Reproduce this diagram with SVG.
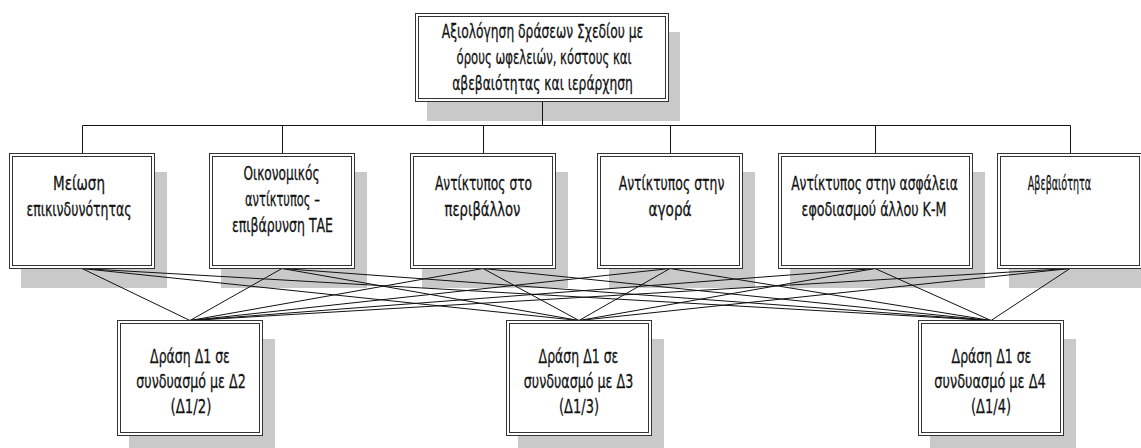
<svg xmlns="http://www.w3.org/2000/svg" width="1141" height="448" viewBox="0 0 1141 448">
<style>
.sh{fill:#c9c9c9;stroke:none}
.bo{fill:#fff;stroke:#333;stroke-width:1}
.bi{fill:none;stroke:#333;stroke-width:1}
.ln{stroke:#111;stroke-width:1;fill:none}
text{font-family:"DejaVu Sans","Liberation Sans",sans-serif;font-size:20px;fill:#111;stroke:#111;stroke-width:0.3;text-anchor:middle}
</style>
<rect width="1141" height="448" fill="#fff"/>
<g id="shadows">
<rect class="sh" x="427" y="32" width="253" height="89"/>
<rect class="sh" x="21" y="172" width="146" height="116"/>
<rect class="sh" x="221" y="172" width="146" height="116"/>
<rect class="sh" x="422" y="172" width="146" height="116"/>
<rect class="sh" x="609" y="172" width="146" height="116"/>
<rect class="sh" x="790" y="172" width="195" height="116"/>
<rect class="sh" x="1009" y="172" width="146" height="116"/>
<rect class="sh" x="129" y="339" width="146" height="116"/>
<rect class="sh" x="518" y="339" width="146" height="116"/>
<rect class="sh" x="930" y="339" width="146" height="116"/>
</g>
<g id="connectors">
<path class="ln" d="M542.5 101.5V125.5M82.5 125.5H1070.5M82.5 125.5V153.5M282.5 125.5V153.5M483.5 125.5V153.5M670.5 125.5V153.5M875.5 125.5V153.5M1070.5 125.5V153.5"/>
<path class="ln" d="M82 268.5L190 320.5M82 268.5L579 320.5M82 268.5L991 320.5
M282 268.5L190 320.5M282 268.5L579 320.5M282 268.5L991 320.5
M483 268.5L190 320.5M483 268.5L579 320.5M483 268.5L991 320.5
M670 268.5L190 320.5M670 268.5L579 320.5M670 268.5L991 320.5
M875 268.5L190 320.5M875 268.5L579 320.5M875 268.5L991 320.5
M1070 268.5L190 320.5M1070 268.5L579 320.5M1070 268.5L991 320.5"/>
</g>
<g id="top">
<rect class="bo" x="415.5" y="13.5" width="253" height="88"/>
<rect class="bi" x="418.5" y="16.5" width="247" height="82"/>
<text transform="translate(542.5,38) scale(0.615,1)">Αξιολόγηση δράσεων Σχεδίου με</text>
<text transform="translate(544,64) scale(0.584,1)">όρους ωφελειών, κόστους και</text>
<text transform="translate(542.5,90) scale(0.616,1)">αβεβαιότητας και ιεράρχηση</text>
</g>
<g id="c1">
<rect class="bo" x="9.5" y="153.5" width="145" height="115"/>
<rect class="bi" x="12.5" y="156.5" width="139" height="109"/>
<text transform="translate(79,190) scale(0.676,1)">Μείωση</text>
<text transform="translate(79,216) scale(0.626,1)">επικινδυνότητας</text>
</g>
<g id="c2">
<rect class="bo" x="209.5" y="153.5" width="145" height="115"/>
<rect class="bi" x="212.5" y="156.5" width="139" height="109"/>
<text transform="translate(281.5,180) scale(0.608,1)">Οικονομικός</text>
<text transform="translate(282.5,206) scale(0.572,1)">αντίκτυπος –</text>
<text transform="translate(282.5,232) scale(0.627,1)">επιβάρυνση ΤΑΕ</text>
</g>
<g id="c3">
<rect class="bo" x="410.5" y="153.5" width="145" height="115"/>
<rect class="bi" x="413.5" y="156.5" width="139" height="109"/>
<text transform="translate(483.5,190) scale(0.614,1)">Αντίκτυπος στο</text>
<text transform="translate(482.5,216) scale(0.659,1)">περιβάλλον</text>
</g>
<g id="c4">
<rect class="bo" x="597.5" y="153.5" width="145" height="115"/>
<rect class="bi" x="600.5" y="156.5" width="139" height="109"/>
<text transform="translate(671.5,190) scale(0.622,1)">Αντίκτυπος στην</text>
<text transform="translate(670,216) scale(0.681,1)">αγορά</text>
</g>
<g id="c5">
<rect class="bo" x="778.5" y="153.5" width="194" height="115"/>
<rect class="bi" x="781.5" y="156.5" width="188" height="109"/>
<text transform="translate(874.5,190) scale(0.615,1)">Αντίκτυπος στην ασφάλεια</text>
<text transform="translate(874,216) scale(0.634,1)">εφοδιασμού άλλου Κ-Μ</text>
</g>
<g id="c6">
<rect class="bo" x="997.5" y="153.5" width="145" height="115"/>
<rect class="bi" x="1000.5" y="156.5" width="139" height="109"/>
<text transform="translate(1059.5,190) scale(0.48,1)">Αβεβαιότητα</text>
</g>
<g id="b1">
<rect class="bo" x="117.5" y="320.5" width="145" height="115"/>
<rect class="bi" x="120.5" y="323.5" width="139" height="109"/>
<text transform="translate(190,363) scale(0.626,1)">Δράση Δ1 σε</text>
<text transform="translate(191,388) scale(0.634,1)">συνδυασμό με Δ2</text>
<text transform="translate(191,413) scale(0.666,1)">(Δ1/2)</text>
</g>
<g id="b2">
<rect class="bo" x="506.5" y="320.5" width="145" height="115"/>
<rect class="bi" x="509.5" y="323.5" width="139" height="109"/>
<text transform="translate(578.5,363) scale(0.626,1)">Δράση Δ1 σε</text>
<text transform="translate(578.5,388) scale(0.634,1)">συνδυασμό με Δ3</text>
<text transform="translate(579,413) scale(0.65,1)">(Δ1/3)</text>
</g>
<g id="b3">
<rect class="bo" x="918.5" y="320.5" width="145" height="115"/>
<rect class="bi" x="921.5" y="323.5" width="139" height="109"/>
<text transform="translate(991.5,363) scale(0.626,1)">Δράση Δ1 σε</text>
<text transform="translate(990,388) scale(0.645,1)">συνδυασμό με Δ4</text>
<text transform="translate(991,413) scale(0.65,1)">(Δ1/4)</text>
</g>
</svg>
